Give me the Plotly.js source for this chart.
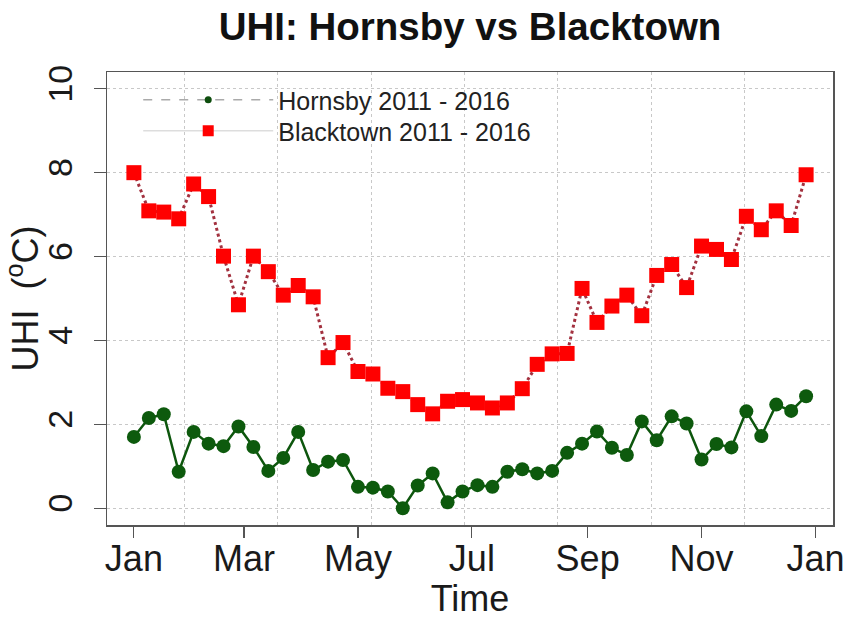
<!DOCTYPE html>
<html>
<head>
<meta charset="utf-8">
<script src="https://cdn.plot.ly/plotly-3.0.1.min.js"></script>
<style>html,body{margin:0;padding:0;background:#fff;}#chart{width:847px;height:619px;}</style>
</head>
<body>
<div id="chart"></div>
<script>
// 8-day composite dates (plotted on a generic year)
var dates = ["2014-01-01","2014-01-09","2014-01-17","2014-01-25","2014-02-02","2014-02-10","2014-02-18","2014-02-26",
  "2014-03-06","2014-03-14","2014-03-22","2014-03-30","2014-04-07","2014-04-15","2014-04-23","2014-05-01",
  "2014-05-09","2014-05-17","2014-05-25","2014-06-02","2014-06-10","2014-06-18","2014-06-26","2014-07-04",
  "2014-07-12","2014-07-20","2014-07-28","2014-08-05","2014-08-13","2014-08-21","2014-08-29","2014-09-06",
  "2014-09-14","2014-09-22","2014-09-30","2014-10-08","2014-10-16","2014-10-24","2014-11-01","2014-11-09",
  "2014-11-17","2014-11-25","2014-12-03","2014-12-11","2014-12-19","2014-12-27"];

var hornsby = [1.70, 2.15, 2.24, 0.87, 1.82, 1.54, 1.48, 1.95, 1.46, 0.89,
  1.20, 1.82, 0.91, 1.11, 1.15, 0.51, 0.49, 0.40, 0.00, 0.54,
  0.83, 0.14, 0.40, 0.55, 0.51, 0.87, 0.93, 0.83, 0.89, 1.32,
  1.54, 1.83, 1.44, 1.27, 2.07, 1.62, 2.19, 2.02, 1.16, 1.53,
  1.45, 2.31, 1.72, 2.47, 2.32, 2.67];

var blacktown = [8.00, 7.09, 7.06, 6.90, 7.73, 7.43, 6.01, 4.85, 6.01, 5.64,
  5.08, 5.31, 5.04, 3.59, 3.95, 3.26, 3.20, 2.86, 2.78, 2.47,
  2.25, 2.55, 2.59, 2.51, 2.39, 2.51, 2.85, 3.43, 3.68, 3.69,
  5.24, 4.43, 4.82, 5.08, 4.59, 5.55, 5.81, 5.26, 6.25, 6.17,
  5.93, 6.96, 6.64, 7.09, 6.74, 7.95];

var seriesNames = ["Hornsby 2011 - 2016", "Blacktown 2011 - 2016"];
var chartTitle = "UHI: Hornsby vs Blacktown";
var xTitle = "Time";
var yTitle = "UHI  (<sup>o</sup>C)";
var yRange = [0, 10];

// R-style 4% axis extension
var t0 = new Date(dates[0] + "T00:00:00Z").getTime();
var t1 = new Date(dates[dates.length - 1] + "T00:00:00Z").getTime();
var pad = (t1 - t0) * 0.04;
function iso(ms){ return new Date(ms).toISOString().replace("T"," ").replace("Z",""); }
var yPad = (yRange[1] - yRange[0]) * 0.04;

var FONT = "Liberation Sans, Arial, Helvetica, sans-serif";
var DAY = 86400000;

var traces = [
  {x: dates, y: blacktown, type: "scatter", mode: "lines+markers", showlegend: false,
   line: {color: "#a3313f", width: 3, dash: "dot"},
   marker: {symbol: "square", size: 15, color: "#ff0000"}},
  {x: dates, y: hornsby, type: "scatter", mode: "lines+markers", showlegend: false,
   line: {color: "#0d560d", width: 2.5},
   marker: {symbol: "circle", size: 14, color: "#0d5a0d"}},
  // legend keys (styled as in the original legend)
  {x: [null], y: [null], type: "scatter", mode: "lines+markers", name: seriesNames[0], legend: "legend",
   line: {color: "#aaaaaa", width: 1.5, dash: "dash"},
   marker: {symbol: "circle", size: 7, color: "#0d4d0d"}},
  {x: [null], y: [null], type: "scatter", mode: "lines+markers", name: seriesNames[1], legend: "legend2",
   line: {color: "#dddddd", width: 1.5},
   marker: {symbol: "square", size: 11, color: "#ff0000"}}
];

var legendBase = {x: 0.043, xanchor: "left", yanchor: "middle",
  bgcolor: "rgba(0,0,0,0)", borderwidth: 0, itemwidth: 130,
  font: {size: 25, color: "#222"}};

var layout = {
  width: 847, height: 619,
  paper_bgcolor: "#ffffff", plot_bgcolor: "#ffffff",
  margin: {l: 107, r: 14, t: 72, b: 94},
  font: {family: FONT, color: "#1a1a1a"},
  title: {text: "<b>" + chartTitle + "</b>", font: {family: FONT, size: 38.5, color: "#111"},
          x: 0.5, xref: "paper", xanchor: "center", y: 1 - 27/619, yref: "container", yanchor: "middle"},
  xaxis: {
    type: "date", range: [iso(t0 - pad), iso(t1 + pad)],
    tick0: "2014-01-01", dtick: "M2", tickformat: "%b",
    ticks: "outside", ticklen: 11, tickcolor: "#555", tickwidth: 1.2,
    tickfont: {size: 36, color: "#1a1a1a"},
    ticklabelstandoff: -10,
    showline: true, mirror: true, linecolor: "#555", linewidth: 1.5,
    showgrid: false, zeroline: false,
    minor: {tick0: "2014-01-28", dtick: 50 * DAY, showgrid: true, griddash: "dot",
            gridcolor: "#c8c8c8", gridwidth: 1, ticks: ""},
    title: {text: xTitle, font: {size: 36, color: "#1a1a1a"}, standoff: 15}
  },
  yaxis: {
    range: [yRange[0] - yPad, yRange[1] + yPad], tick0: 0, dtick: 2,
    ticks: "outside", ticklen: 12, tickcolor: "#555", tickwidth: 1.2,
    tickangle: -90, tickfont: {size: 34, color: "#1a1a1a"},
    ticklabelstandoff: 8,
    showline: true, mirror: true, linecolor: "#555", linewidth: 1.5,
    showgrid: true, griddash: "dot", gridcolor: "#c8c8c8", gridwidth: 1,
    zeroline: false,
    title: {text: yTitle, font: {size: 36, color: "#1a1a1a"}, standoff: 2}
  },
  legend: Object.assign({}, legendBase, {y: (525 - 100) / 453}),
  legend2: Object.assign({}, legendBase, {y: (525 - 131) / 453})
};

Plotly.newPlot("chart", traces, layout, {displayModeBar: false, staticPlot: true});
</script>
</body>
</html>
